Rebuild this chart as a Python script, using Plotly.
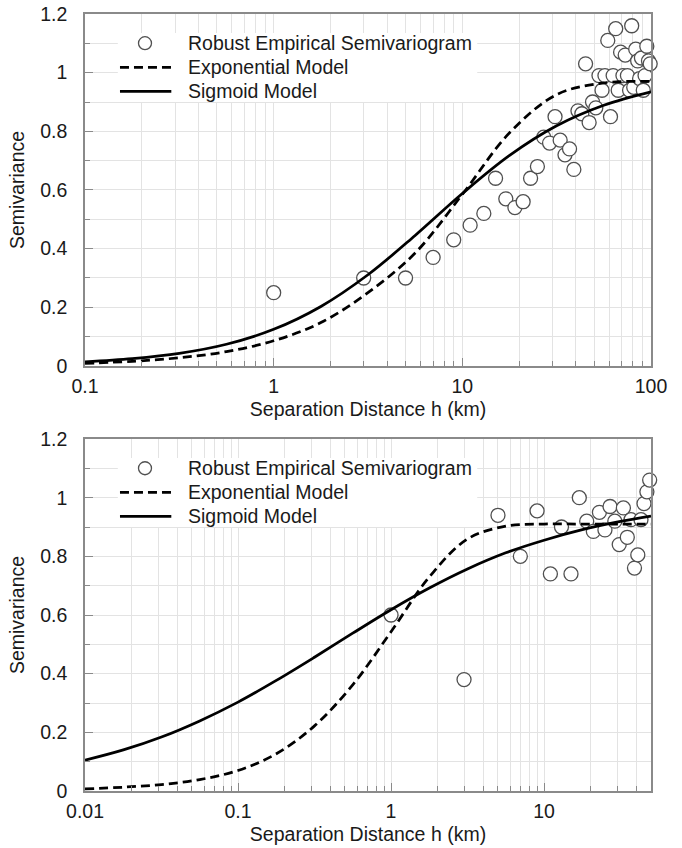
import plotly.graph_objects as go

# ---------------- data ----------------
# Robust empirical semivariogram, upper panel (lag distance in km)
top_lag = [1, 3, 5, 7, 9, 11, 13, 15, 17, 19,
           21, 23, 25, 27, 29, 31, 33, 35, 37, 39,
           41, 43, 45, 47, 49, 51, 53, 55, 57, 59,
           61, 63, 65, 67, 69, 71, 73, 75, 77, 79,
           81, 83, 85, 87, 89, 91, 93, 95, 97, 99]
top_gamma = [0.25, 0.30, 0.30, 0.37, 0.43, 0.48, 0.52, 0.64, 0.57, 0.54,
             0.56, 0.64, 0.68, 0.78, 0.76, 0.85, 0.77, 0.72, 0.74, 0.67,
             0.87, 0.86, 1.03, 0.83, 0.90, 0.88, 0.99, 0.94, 0.99, 1.11,
             0.85, 0.99, 1.15, 0.94, 1.07, 0.99, 1.06, 0.99, 0.94, 1.16,
             0.95, 1.08, 1.04, 0.98, 1.05, 0.94, 0.99, 1.09, 1.04, 1.03]

# Fitted models, upper panel (quarter-decade stations)
top_model_h = [0.1, 0.178, 0.316, 0.562, 1, 1.78, 3.16, 5.62,
               10, 17.8, 31.6, 56.2, 100]
top_exponential = [0.009, 0.016, 0.028, 0.049, 0.086, 0.148, 0.25, 0.385,
                   0.585, 0.795, 0.925, 0.965, 0.97]
top_sigmoid = [0.014, 0.025, 0.043, 0.074, 0.125, 0.203, 0.311, 0.445,
               0.588, 0.718, 0.819, 0.889, 0.935]

# Robust empirical semivariogram, lower panel
bottom_lag = [1, 3, 5, 7, 9, 11, 13, 15, 17, 19,
              21, 23, 25, 27, 29, 31, 33, 35, 37, 39,
              41, 43, 45, 47, 49]
bottom_gamma = [0.60, 0.38, 0.94, 0.80, 0.955, 0.74, 0.90, 0.74, 1.00, 0.92,
                0.885, 0.95, 0.89, 0.97, 0.92, 0.84, 0.965, 0.865, 0.925, 0.76,
                0.805, 0.925, 0.98, 1.02, 1.06]

# Fitted models, lower panel (quarter-decade stations)
bottom_model_h = [0.01, 0.0178, 0.0316, 0.0562, 0.1, 0.178, 0.316, 0.562,
                  1, 1.78, 3.16, 5.62, 10, 17.8, 31.6, 50]
bottom_exponential = [0.007, 0.013, 0.022, 0.039, 0.07, 0.127, 0.222, 0.362,
                      0.543, 0.73, 0.859, 0.903, 0.91, 0.91, 0.91, 0.91]
bottom_sigmoid = [0.105, 0.14, 0.184, 0.239, 0.303, 0.377, 0.456, 0.538,
                  0.618, 0.692, 0.757, 0.812, 0.855, 0.891, 0.919, 0.937]

y_ticks = [0, 0.2, 0.4, 0.6, 0.8, 1.0, 1.2]
y_ticktext = ["0", "0.2", "0.4", "0.6", "0.8", "1", "1.2"]
top_x_ticks = [0.1, 1, 10, 100]
top_x_ticktext = ["0.1", "1", "10", "100"]
bottom_x_ticks = [0.01, 0.1, 1, 10]
bottom_x_ticktext = ["0.01", "0.1", "1", "10"]

legend_labels = ["Robust Empirical Semivariogram", "Exponential Model", "Sigmoid Model"]

# ---------------- styling ----------------
FONT = "Liberation Sans, Arial, sans-serif"
FS = 19.5
INK = "#1a1a1a"
GRID = "#e3e3e3"
FRAME = "#8a8a8a"
EDGE = "#505050"
DASH = "9px,5px"
LW = 2.75

fig = go.Figure()


def add_panel(xa, ya, lag, gamma, h, g_exp, g_sig):
    fig.add_trace(go.Scatter(
        x=lag, y=gamma, mode="markers", xaxis=xa, yaxis=ya,
        marker=dict(symbol="circle", size=14, color="white",
                    line=dict(color=EDGE, width=1.3)),
        cliponaxis=False, showlegend=False, name=legend_labels[0]))
    fig.add_trace(go.Scatter(
        x=h, y=g_exp, mode="lines", xaxis=xa, yaxis=ya,
        line=dict(color="black", width=LW, dash=DASH, shape="spline", smoothing=1),
        showlegend=False, name=legend_labels[1]))
    fig.add_trace(go.Scatter(
        x=h, y=g_sig, mode="lines", xaxis=xa, yaxis=ya,
        line=dict(color="black", width=LW, shape="spline", smoothing=1),
        showlegend=False, name=legend_labels[2]))


add_panel("x", "y", top_lag, top_gamma, top_model_h, top_exponential, top_sigmoid)
add_panel("x2", "y2", bottom_lag, bottom_gamma, bottom_model_h, bottom_exponential, bottom_sigmoid)


def log_minor(first_exp, last_val):
    vals = []
    e = first_exp
    while 10 ** e < last_val:
        for m in range(2, 10):
            v = m * 10 ** e
            if v < last_val:
                vals.append(v)
        e += 1
    return vals


def x_axis(anchor, rng, tickvals, ticktext, minor_vals):
    return dict(
        type="log", range=rng, anchor=anchor, domain=[0, 1],
        tickmode="array", tickvals=tickvals, ticktext=ticktext,
        ticks="inside", ticklen=8, tickwidth=1.2, tickcolor=FRAME,
        showline=True, linecolor=FRAME, linewidth=1.5, mirror=True,
        showgrid=True, gridcolor=GRID, gridwidth=1, zeroline=False,
        minor=dict(tickmode="array", tickvals=minor_vals, ticks="inside",
                   ticklen=5, tickwidth=1.2, tickcolor=FRAME,
                   showgrid=True, gridcolor=GRID, gridwidth=1),
        tickfont=dict(family=FONT, size=FS, color=INK),
        ticklabelstandoff=2,
        title=dict(text="Separation Distance h (km)", standoff=6,
                   font=dict(family=FONT, size=FS, color=INK)),
        automargin=False,
    )


def y_axis(anchor, domain):
    return dict(
        range=[0, 1.2], anchor=anchor, domain=domain,
        tickmode="array", tickvals=y_ticks, ticktext=y_ticktext,
        ticks="inside", ticklen=8, tickwidth=1.2, tickcolor=FRAME,
        showline=True, linecolor=FRAME, linewidth=1.5, mirror=True,
        showgrid=True, gridcolor=GRID, gridwidth=1, zeroline=False,
        minor=dict(tickmode="array", tickvals=[0.1, 0.3, 0.5, 0.7, 0.9, 1.1],
                   ticks="inside", ticklen=5, tickwidth=1.2, tickcolor=FRAME,
                   showgrid=True, gridcolor=GRID, gridwidth=1),
        tickfont=dict(family=FONT, size=FS, color=INK),
        ticklabelstandoff=12,
        title=dict(text="Semivariance", standoff=10,
                   font=dict(family=FONT, size=FS, color=INK)),
        automargin=False,
    )


fig.update_layout(
    width=682, height=848,
    margin=dict(l=85, r=31, t=14, b=57),
    paper_bgcolor="white", plot_bgcolor="white",
    showlegend=False,
    xaxis=x_axis("y", [-1, 2], top_x_ticks, top_x_ticktext, log_minor(-1, 100)),
    yaxis=y_axis("x", [0.547, 1.0]),
    xaxis2=x_axis("y2", [-2, 1.69897], bottom_x_ticks, bottom_x_ticktext, log_minor(-2, 50)),
    yaxis2=y_axis("x2", [0.0, 0.453]),
)

# Legend block drawn inside each panel (white box hides the grid behind it)
shapes = []
annotations = []
for xd, yd in (("x domain", "y domain"), ("x2 domain", "y2 domain")):
    shapes.append(dict(type="rect", xref=xd, yref=yd, x0=0.058, x1=0.693,
                       y0=0.75, y1=0.946, fillcolor="white",
                       line=dict(width=0), layer="above"))
    shapes.append(dict(type="circle", xref=xd, yref=yd,
                       xsizemode="pixel", ysizemode="pixel",
                       xanchor=0.106, yanchor=0.917, x0=-6.5, x1=6.5, y0=-6.5, y1=6.5,
                       fillcolor="white", line=dict(color=EDGE, width=1.3),
                       layer="above"))
    shapes.append(dict(type="line", xref=xd, yref=yd, x0=0.0618, x1=0.1525,
                       y0=0.8486, y1=0.8486,
                       line=dict(color="black", width=LW, dash=DASH), layer="above"))
    shapes.append(dict(type="line", xref=xd, yref=yd, x0=0.0618, x1=0.1525,
                       y0=0.7804, y1=0.7804,
                       line=dict(color="black", width=LW), layer="above"))
    for label, yy in zip(legend_labels, (0.917, 0.8486, 0.7804)):
        annotations.append(dict(text=label, xref=xd, yref=yd, x=0.178, y=yy,
                                xanchor="left", yanchor="middle", showarrow=False,
                                font=dict(family=FONT, size=FS, color=INK)))

fig.update_layout(shapes=shapes, annotations=annotations)

fig.write_html("out.html")
